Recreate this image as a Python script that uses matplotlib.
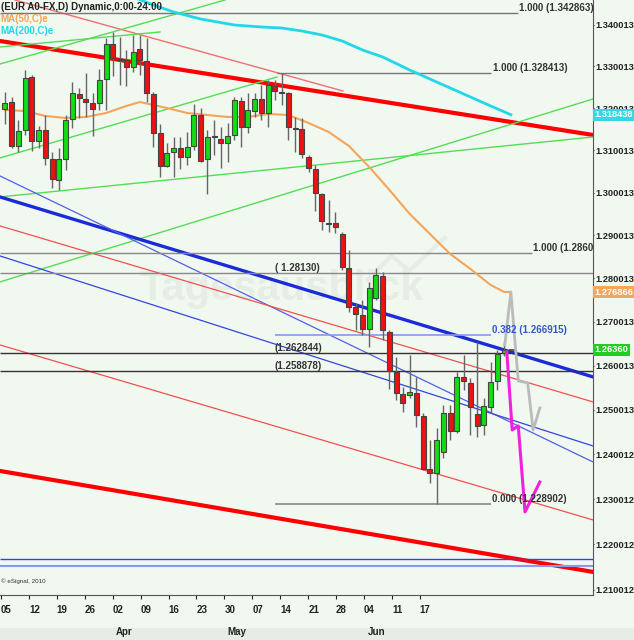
import numpy as np
import matplotlib.pyplot as plt
from matplotlib.ticker import NullLocator
from matplotlib.patches import Rectangle
import matplotlib.transforms as mtransforms

plt.rcParams['font.family'] = ['Liberation Sans', 'DejaVu Sans']

"""__==** DATA **==__"""
# daily EUR candles (index 0 = first candle on the left)
opens = [1.31980, 1.32147, 1.31101, 1.31481, 1.32745, 1.31219, 1.31481, 1.30795, 1.30298, 1.30795,
         1.31742, 1.32338, 1.32219, 1.32123, 1.32123, 1.32697, 1.33539, 1.33177, 1.33153, 1.32985,
         1.33418, 1.33129, 1.32338, 1.31410, 1.30629, 1.30960, 1.31054, 1.30842, 1.31101, 1.31837,
         1.30795, 1.31338, 1.31267, 1.31172, 1.31362, 1.32171, 1.31552, 1.31932, 1.32219, 1.31885,
         1.32530, 1.32386, 1.32362, 1.31528, 1.31505, 1.30842, 1.30558, 1.29970, 1.29292, 1.29292,
         1.29035, 1.28245, 1.27344, 1.27161, 1.26839, 1.27551, 1.28060, 1.26770, 1.25858, 1.25359,
         1.25336, 1.25382, 1.24861, 1.23671, 1.23582, 1.24052, 1.24929, 1.24524, 1.25745, 1.25609,
         1.24907, 1.24659, 1.25065, 1.25654, 1.26291]
highs = [1.32386, 1.32267, 1.31718, 1.32913, 1.32793, 1.31576, 1.31837, 1.30960, 1.31054, 1.31837,
         1.32625, 1.32482, 1.32841, 1.32362, 1.32937, 1.33683, 1.33829, 1.33708, 1.33394, 1.33756,
         1.33756, 1.33683, 1.32386, 1.31623, 1.31172, 1.31314, 1.31314, 1.31433, 1.32099, 1.32004,
         1.31481, 1.31718, 1.31552, 1.31647, 1.32267, 1.32267, 1.32362, 1.32362, 1.32553, 1.32673,
         1.32673, 1.328413, 1.32386, 1.31790, 1.31766, 1.30889, 1.30652, 1.29994, 1.29830, 1.29549,
         1.29081, 1.28662, 1.27436, 1.27505, 1.27921, 1.28245, 1.28152, 1.26816, 1.26199, 1.25518,
         1.26245, 1.25745, 1.24929, 1.24321, 1.24591, 1.25110, 1.25110, 1.25858, 1.26245, 1.25722,
         1.26541, 1.25268, 1.26085, 1.26359, 1.26541]
lows = [1.31623, 1.31054, 1.30960, 1.31362, 1.30983, 1.31054, 1.30652, 1.30111, 1.30064, 1.30534,
        1.31528, 1.31766, 1.31790, 1.31338, 1.31956, 1.31956, 1.32769, 1.32553, 1.32530, 1.32865,
        1.32793, 1.32147, 1.31078, 1.30369, 1.30605, 1.30369, 1.30558, 1.30652, 1.31007, 1.30724,
        1.29970, 1.30889, 1.30581, 1.30724, 1.31243, 1.31078, 1.31410, 1.31790, 1.31718, 1.31552,
        1.32195, 1.32075, 1.31243, 1.30960, 1.30818, 1.30487, 1.29573, 1.29128, 1.29081, 1.29058,
        1.28199, 1.27229, 1.26816, 1.26702, 1.26427, 1.27505, 1.26587, 1.25473, 1.25223, 1.24952,
        1.25268, 1.24613, 1.23649, 1.23359, 1.228902, 1.23918, 1.24321, 1.24479, 1.25450, 1.24433,
        1.24388, 1.24433, 1.24929, 1.25450, 1.26222]
closes = [1.32123, 1.31101, 1.31457, 1.32721, 1.31219, 1.31481, 1.30818, 1.30322, 1.30795, 1.31718,
          1.32362, 1.32243, 1.32147, 1.31980, 1.32673, 1.33539, 1.33201, 1.33153, 1.32985, 1.33346,
          1.33153, 1.32362, 1.31410, 1.30629, 1.30936, 1.31054, 1.30842, 1.31078, 1.31837, 1.30747,
          1.31314, 1.31314, 1.31172, 1.31338, 1.32195, 1.31552, 1.31956, 1.32219, 1.31885, 1.32553,
          1.32410, 1.32362, 1.31552, 1.31505, 1.30913, 1.30581, 1.29994, 1.29339, 1.29268, 1.29198,
          1.28268, 1.27344, 1.27184, 1.26839, 1.27782, 1.28083, 1.26816, 1.25880, 1.25382, 1.25155,
          1.25405, 1.24884, 1.23671, 1.23582, 1.24321, 1.24929, 1.24524, 1.25745, 1.25654, 1.25065,
          1.24636, 1.25087, 1.25632, 1.26268, 1.26360]

# moving averages (candle index, price)
ma50_x = [0, 3, 6, 9, 12, 15, 18, 20, 22, 24, 27, 30, 33, 36, 39, 42, 45, 48, 51, 54, 57, 60,
          63, 66, 69, 72, 74, 75]
ma50_y = [1.31956, 1.31932, 1.31813, 1.31766, 1.31790, 1.31885, 1.32052, 1.32147, 1.32075,
          1.32004, 1.31885, 1.31837, 1.31790, 1.31790, 1.31861, 1.31837, 1.31647, 1.31433,
          1.31101, 1.30605, 1.30064, 1.29502, 1.29035, 1.28569, 1.28222, 1.27851, 1.27690, 1.276866]
ma200_x = [19, 22, 25, 29, 34, 38, 41, 44, 47, 50, 53, 56, 60, 63, 66, 69, 72, 75]
ma200_y = [1.34677, 1.34483, 1.34313, 1.34143, 1.33998, 1.33950, 1.33925, 1.33853, 1.33756,
           1.33611, 1.33394, 1.33225, 1.32913, 1.32697, 1.32482, 1.32267, 1.32052, 1.318438]

# forecast sketches
grey_x = [74.1, 75.0, 76.1, 77.5, 78.3, 79.3]
grey_y = [1.26473, 1.27690, 1.25654, 1.25609, 1.24546, 1.25042]
pink_x = [74.4, 75.2, 76.1, 77.1, 79.3]
pink_y = [1.26313, 1.24546, 1.24636, 1.22716, 1.23381]

# fib levels
fib_high1 = 1.342863
fib_high2 = 1.328413
fib_top3 = 1.28600
lvl_12813 = 1.28130
fib_382 = 1.266915
lvl_1262 = 1.262844
lvl_1258 = 1.258878
fib_zero = 1.228902
blue_h1 = 1.21679
blue_h2 = 1.21525

ytick_vals = [1.340013, 1.330013, 1.320013, 1.310013, 1.300013, 1.290013, 1.280013,
              1.270013, 1.260013, 1.250013, 1.240012, 1.230012, 1.220012, 1.210012]
xtick_labels = ['05', '12', '19', '26', '02', '09', '16', '23', '30', '07', '14', '21', '28',
                '04', '11', '17']
month_labels = {4: 'Apr', 8: 'May', 13: 'Jun'}

"""__==** PLOT **==__"""
BG = '#F1F8F0'
XL, XR = -0.74, 87.18
FS = 7
fig = plt.figure(figsize=(6.34, 6.40), dpi=100, facecolor=BG)
ax = fig.add_axes([0, 45 / 640, 593 / 634, 595 / 640])
ax.set_facecolor(BG)
ax.set_yscale('log')
ax.set_xlim(XL, XR)
ax.set_ylim(1.20888, 1.34604)

# bottom strip
fig.patches.append(Rectangle((0, 0), 1, 12 / 640, transform=fig.transFigure,
                             facecolor='#E6EDE4', edgecolor='none', zorder=-1))

# watermark
wm = '#E5EDE4'
ax.text(0.236, 0.495, 'Tagesausblick', transform=ax.transAxes, fontsize=30,
        fontweight='bold', color=wm, zorder=0)
ax.text(0.655, 0.462, 'de', transform=ax.transAxes, fontsize=8, fontweight='bold',
        color=wm, zorder=0)
ax.plot([0.62, 0.66, 0.69, 0.75], [0.53, 0.57, 0.545, 0.6], transform=ax.transAxes,
        color=wm, lw=3, zorder=0)


def tline(x0, y0, x1, y1, **kw):
    ax.plot([x0, x1], [y0, y1], **kw)


# trend lines (ends given in candle index / price)
tline(XL, 1.33611, XR, 1.31362, color='#FF0000', lw=3, zorder=2)
tline(1.48, 1.34604, 50.11, 1.32410, color='#F07070', lw=1, zorder=2)
tline(XL, 1.33057, 32.62, 1.34604, color='#55DD55', lw=1, zorder=2)
tline(XL, 1.33466, 22.98, 1.33829, color='#55DD55', lw=1, zorder=2)
tline(XL, 1.30818, 40.33, 1.32745, color='#55DD55', lw=1, zorder=2)
tline(XL, 1.29900, XR, 1.31314, color='#55DD55', lw=1, zorder=2)
tline(XL, 1.27921, XR, 1.32219, color='#55DD55', lw=1, zorder=2)
tline(XL, 1.29900, XR, 1.25745, color='#1A2BD8', lw=2.4, zorder=2)
tline(XL, 1.30393, XR, 1.23828, color='#5060E8', lw=0.9, zorder=2)
tline(XL, 1.28523, XR, 1.24186, color='#3344E0', lw=0.9, zorder=2)
tline(XL, 1.29222, XR, 1.25178, color='#F05050', lw=0.9, zorder=2)
tline(XL, 1.26473, XR, 1.22538, color='#F05050', lw=0.9, zorder=2)
tline(XL, 1.23627, XR, 1.21393, color='#FF0000', lw=3, zorder=2)

# horizontal levels
ax.hlines(fib_high1, XL, 76.06, color='#777777', lw=1, zorder=2)
ax.hlines(fib_high2, 40.33, 72.05, color='#777777', lw=1, zorder=2)
ax.hlines(fib_top3, XL, 78.2, color='#888888', lw=1, zorder=2)
ax.hlines(lvl_12813, XL, XR, color='#888888', lw=1, zorder=2)
ax.hlines(fib_382, 40.03, 72.05, color='#8899EE', lw=1.2, zorder=2)
ax.hlines(lvl_1262, XL, XR, color='#333333', lw=1, zorder=2)
ax.hlines(lvl_1258, XL, XR, color='#333333', lw=1, zorder=2)
ax.hlines(fib_zero, 40.03, 72.05, color='#888888', lw=1.2, zorder=2)
ax.hlines(blue_h1, XL, XR, color='#3344DD', lw=1, zorder=2)
ax.hlines(blue_h2, XL, XR, color='#8899F0', lw=1.5, zorder=2)

# moving averages
ax.plot(ma50_x, ma50_y, color='#F5A55A', lw=1.5, zorder=3)
ax.plot(ma200_x, ma200_y, color='#22D8E8', lw=2, zorder=3)

# candles
idx = np.arange(len(closes))
o = np.array(opens)
c = np.array(closes)
up = c >= o
ax.vlines(idx, lows, highs, color='#666666', lw=1, zorder=4)
ax.bar(idx, np.abs(c - o), bottom=np.minimum(o, c), width=0.74,
       color=np.where(up, '#11DD11', '#EE1111'), edgecolor='#444444', lw=0.8, zorder=5)
ax.hlines(closes[-1], len(closes) - 0.2, len(closes) + 0.6, color='#444444', lw=1.2, zorder=5)

# forecast paths
ax.plot(grey_x, grey_y, color='#BBBBBB', lw=2, zorder=6)
ax.plot(pink_x, pink_y, color='#EE22DD', lw=2.2, zorder=6)

# level labels
lab = dict(fontsize=FS, fontweight='bold', color='#333333', va='bottom', zorder=7)
ax.text(76.2, fib_high1, '1.000 (1.342863)', **lab)
ax.text(72.35, fib_high2, '1.000 (1.328413)', **lab)
ax.text(78.28, fib_top3, '1.000 (1.286000)', clip_on=True, **lab)
ax.text(40.03, lvl_12813, '( 1.28130)', **lab)
ax.text(40.03, lvl_1262, '(1.262844)', **lab)
ax.text(40.03, lvl_1258, '(1.258878)', **lab)
ax.text(72.2, fib_zero, '0.000 (1.228902)', **lab)
lab['color'] = '#3355CC'
ax.text(72.2, fib_382, '0.382 (1.266915)', **lab)

# header
hdr = dict(transform=ax.transAxes, fontsize=FS, fontweight='bold', va='center', zorder=7)
ax.text(0.001, 0.988, '(EUR A0-FX,D) Dynamic,0:00-24:00', color='#222222', **hdr)
ax.text(0.001, 0.968, 'MA(50,C)e', color='#F5A55A', **hdr)
ax.text(0.001, 0.948, 'MA(200,C)e', color='#22D8E8', **hdr)
ax.text(0.002, 0.02, '\u00a9 eSignal, 2010', transform=ax.transAxes, fontsize=4.5, color='#333333')

# axes
for s in ['top', 'left']:
    ax.spines[s].set_visible(False)
ax.spines['right'].set_color('#555555')
ax.spines['bottom'].set_color('#555555')
ax.yaxis.tick_right()
ax.yaxis.set_minor_locator(NullLocator())
ax.set_yticks(ytick_vals, ['%.6f' % v for v in ytick_vals])
ax.tick_params(axis='y', length=1, pad=0.5, labelsize=6.7, colors='#222222')
for t in ax.get_yticklabels():
    t.set_fontweight('bold')

xt = -0.59 + 4.14 * np.arange(len(xtick_labels))
ax.set_xticks(xt, xtick_labels)
ax.tick_params(axis='x', length=3, pad=4, labelsize=FS, colors='#222222')
for t in ax.get_xticklabels():
    t.set_fontweight('bold')
    t.set_horizontalalignment('left')
trans = mtransforms.blended_transform_factory(ax.transData, ax.transAxes)
for k, m in month_labels.items():
    ax.text(xt[k] + 0.5, -0.062, m, transform=trans, fontsize=FS, fontweight='bold',
            color='#222222', va='center', clip_on=False)

# last value boxes on the price axis
box = dict(transform=mtransforms.blended_transform_factory(ax.transAxes, ax.transData),
           fontsize=6.7, fontweight='bold', color='white', va='center', ha='left',
           clip_on=False, zorder=8)
ax.text(1.003, 1.318438, '1.318438', bbox=dict(fc='#33D8E4', ec='none', pad=1.2), **box)
ax.text(1.003, 1.276866, '1.276866', bbox=dict(fc='#F2A65E', ec='none', pad=1.2), **box)
ax.text(1.003, 1.26360, '1.26360', bbox=dict(fc='#22CC22', ec='none', pad=1.2), **box)

plt.savefig('out.png', dpi=100, facecolor=BG)
